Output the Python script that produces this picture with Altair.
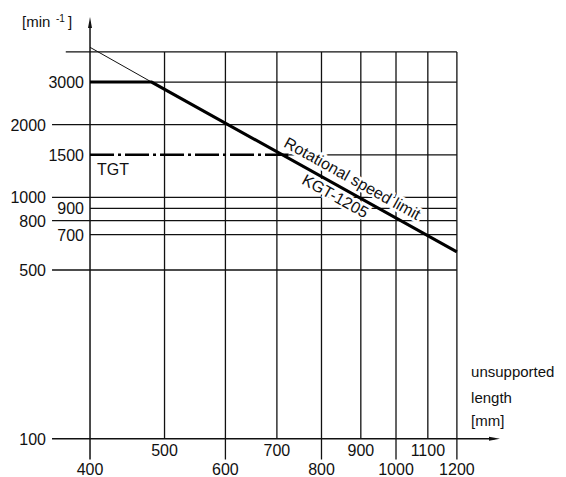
import altair as alt
import pandas as pd

# ---------------- data ----------------
x_ticks = [400, 500, 600, 700, 800, 900, 1000, 1100, 1200]
x_labels_upper = [500, 700, 900, 1100]          # printed just under the base line
x_labels_lower = [400, 600, 800, 1000, 1200]    # printed one row lower
y_labels_far = [2000, 1000, 800, 500, 100]      # labels with a tick stub
y_labels_near = [3000, 1500, 900, 700]          # labels touching the axis
grid_top = 4000

thin_x = [400, 481]
thin_y = [4180, 3000]
limit_x = [400, 481, 1200]
limit_y = [3000, 3000, 594]
tgt_x = [400, 725]
tgt_y = [1500, 1500]

# ---------------- scales (pixel mapping of the drawing) ----------------
W, H = 550, 469
xs = alt.Scale(type="log", domain=[312.9, 1624.3], nice=False, zero=False)
ys = alt.Scale(type="log", domain=[69.47, 6080], nice=False, zero=False)


def X(f, **k):
    return alt.X(f, type="quantitative", scale=xs, axis=None, **k)


def Y(f, **k):
    return alt.Y(f, type="quantitative", scale=ys, axis=None, **k)


FONT = "Liberation Sans"
INK = "#111111"

x_min, x_max, y_min = x_ticks[0], x_ticks[-1], 100
stub_left = 357      # left end of tick stubs
top_left = 372       # left end of top grid line
ext_bottom = 82      # lower end of long vertical lines
axis_tip_y = 5293    # y-arrow position
axis_tip_x = 1343    # x-arrow position

# vertical grid lines
vg = pd.DataFrame({
    "x": x_ticks[1:],
    "y1": grid_top,
    "y2": [ext_bottom if v in x_labels_lower else y_min for v in x_ticks[1:]],
})
vgrid = alt.Chart(vg).mark_rule(color=INK, strokeWidth=1.3).encode(
    x=X("x"), y=Y("y1"), y2="y2")

# horizontal grid lines
rows = [(grid_top, top_left, x_max)]
for v in [3000, 2000, 1000, 900, 800, 700, 500]:
    rows.append((v, stub_left if v in y_labels_far else x_min, x_max))
rows.append((1500, tgt_x[-1], x_max))
hg = pd.DataFrame(rows, columns=["y", "x1", "x2"])
hgrid = alt.Chart(hg).mark_rule(color=INK, strokeWidth=1.3).encode(
    y=Y("y"), x=X("x1"), x2="x2")

# axes
yaxis = alt.Chart(pd.DataFrame({"x": [x_min], "y1": [ext_bottom], "y2": [axis_tip_y]})).mark_rule(
    color=INK, strokeWidth=1.5).encode(x=X("x"), y=Y("y1"), y2="y2")
xaxis = alt.Chart(pd.DataFrame({"y": [y_min], "x1": [stub_left], "x2": [axis_tip_x]})).mark_rule(
    color=INK, strokeWidth=1.5).encode(y=Y("y"), x=X("x1"), x2="x2")
yarrow = alt.Chart(pd.DataFrame({"x": [x_min], "y": [axis_tip_y]})).mark_point(
    shape="M0,-1L0.36,1L-0.36,1Z", size=121, filled=True, color=INK, opacity=1).encode(
    x=X("x"), y=Y("y"))
xarrow = alt.Chart(pd.DataFrame({"x": [axis_tip_x], "y": [y_min]})).mark_point(
    shape="M1,0L-1,0.36L-1,-0.36Z", size=121, filled=True, color=INK, opacity=1).encode(
    x=X("x"), y=Y("y"))

# curves
thin = alt.Chart(pd.DataFrame({"x": thin_x, "y": thin_y})).mark_line(
    color=INK, strokeWidth=1).encode(x=X("x"), y=Y("y"))
thick = alt.Chart(pd.DataFrame({"x": limit_x, "y": limit_y, "o": range(len(limit_x))})).mark_line(
    color="black", strokeWidth=3).encode(x=X("x"), y=Y("y"), order="o")
tgt = alt.Chart(pd.DataFrame({"x": tgt_x, "y": tgt_y})).mark_line(
    color="black", strokeWidth=2.5, strokeDash=[24, 4, 3, 4]).encode(x=X("x"), y=Y("y"))

# y labels
ylf = alt.Chart(pd.DataFrame({"y": y_labels_far, "t": [str(v) for v in y_labels_far], "x": x_min})).mark_text(
    font=FONT, fontSize=16, align="right", baseline="alphabetic", dx=-44, dy=6, color=INK).encode(
    x=X("x"), y=Y("y"), text="t")
yln = alt.Chart(pd.DataFrame({"y": y_labels_near, "t": [str(v) for v in y_labels_near], "x": x_min})).mark_text(
    font=FONT, fontSize=16, align="right", baseline="alphabetic", dx=-6, dy=6, color=INK).encode(
    x=X("x"), y=Y("y"), text="t")

# x labels
xlu = alt.Chart(pd.DataFrame({"x": x_labels_upper, "t": [str(v) for v in x_labels_upper], "y": y_min})).mark_text(
    font=FONT, fontSize=16, align="center", baseline="alphabetic", dy=17.5, color=INK).encode(
    x=X("x"), y=Y("y"), text="t")
xll = alt.Chart(pd.DataFrame({"x": x_labels_lower, "t": [str(v) for v in x_labels_lower], "y": y_min})).mark_text(
    font=FONT, fontSize=16, align="center", baseline="alphabetic", dy=36.5, color=INK).encode(
    x=X("x"), y=Y("y"), text="t")

# annotations
tgt_lbl = alt.Chart(pd.DataFrame({"x": [x_min], "y": [1500], "t": ["TGT"]})).mark_text(
    font=FONT, fontSize=16, align="left", baseline="alphabetic", dx=7, dy=20, color=INK).encode(
    x=X("x"), y=Y("y"), text="t")

unit_df = pd.DataFrame({"x": [x_min], "y": [5072]})
unit1 = alt.Chart(unit_df).mark_text(font=FONT, fontSize=15, align="left", baseline="alphabetic",
                                     dx=-68, color=INK, text="[min").encode(x=X("x"), y=Y("y"))
unit2 = alt.Chart(unit_df).mark_text(font=FONT, fontSize=10, align="left", baseline="alphabetic",
                                     dx=-34, dy=-5, color=INK, text="-1").encode(x=X("x"), y=Y("y"))
unit3 = alt.Chart(unit_df).mark_text(font=FONT, fontSize=15, align="left", baseline="alphabetic",
                                     dx=-22, color=INK, text="]").encode(x=X("x"), y=Y("y"))

xt_df = pd.DataFrame({"x": [1252, 1252, 1252], "y": [180.3, 140.7, 113.0],
                      "t": ["unsupported", "length", "[mm]"]})
xtitle = alt.Chart(xt_df).mark_text(font=FONT, fontSize=15, align="left", baseline="alphabetic",
                                    color=INK).encode(x=X("x"), y=Y("y"), text="t")

rot_df = pd.DataFrame({"x": [877, 833], "y": [1191, 1008], "t": ["Rotational speed limit", "KGT-1205"]})
rot_halo = alt.Chart(rot_df).mark_text(font=FONT, fontSize=16, align="center", baseline="middle",
                                       angle=29, color="white", stroke="white", strokeWidth=5).encode(
    x=X("x"), y=Y("y"), text="t")
rot = alt.Chart(rot_df).mark_text(font=FONT, fontSize=16, align="center", baseline="middle",
                                  angle=29, color=INK).encode(x=X("x"), y=Y("y"), text="t")

chart = alt.layer(
    vgrid, hgrid, yaxis, xaxis, yarrow, xarrow, thin, tgt, rot_halo, thick, rot,
    ylf, yln, xlu, xll, tgt_lbl, unit1, unit2, unit3, xtitle,
).properties(
    width=W, height=H, padding=0, autosize=alt.AutoSizeParams(type="none"),
    background="white",
).configure_view(stroke=None)

chart.save("out.html", embed_options={"renderer": "svg", "actions": False})
